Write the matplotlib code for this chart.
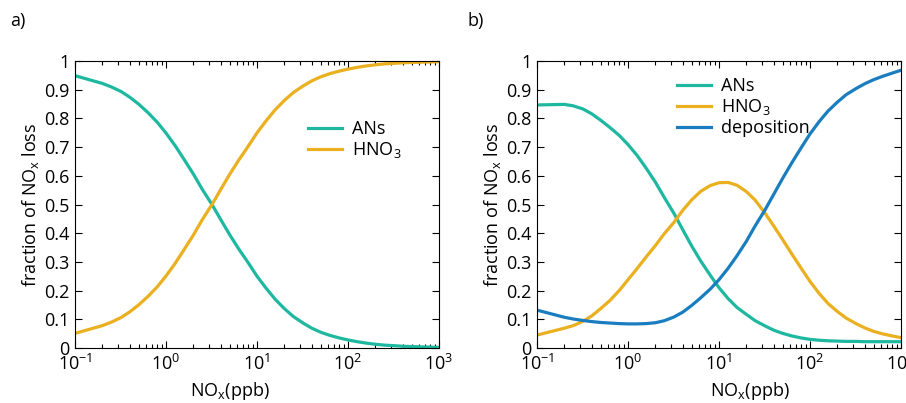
import matplotlib
matplotlib.use('Agg')
import matplotlib.pyplot as plt
from matplotlib.ticker import LogLocator, NullFormatter

plt.rcParams['font.family'] = ['Open Sans', 'DejaVu Sans']
plt.rcParams['mathtext.default'] = 'regular'
plt.rcParams['mathtext.fontset'] = 'custom'
plt.rcParams['mathtext.rm'] = 'Open Sans'

# NOx (ppb) grid shared by both panels
nox = [0.1, 0.2, 0.25, 0.32, 0.4, 0.5, 0.63, 0.8, 1, 1.26, 1.58, 2, 2.5, 3.2, 4, 5, 6.3, 8, 10,
       12.6, 15.8, 20, 25, 32, 40, 50, 63, 80, 100, 126, 158, 200, 250, 320, 400, 500, 630, 800, 1000]

# panel a
ans_a = [0.949, 0.922, 0.910, 0.894, 0.874, 0.850, 0.821, 0.787, 0.749, 0.705, 0.657, 0.606, 0.553,
         0.500, 0.447, 0.395, 0.345, 0.297, 0.250, 0.208, 0.170, 0.137, 0.110, 0.087, 0.069, 0.055,
         0.044, 0.035, 0.028, 0.022, 0.017, 0.013, 0.010, 0.008, 0.006, 0.005, 0.004, 0.003, 0.002]
hno3_a = [0.051, 0.078, 0.090, 0.106, 0.126, 0.150, 0.179, 0.213, 0.251, 0.295, 0.343, 0.394, 0.447,
          0.500, 0.553, 0.605, 0.655, 0.703, 0.750, 0.792, 0.830, 0.863, 0.890, 0.913, 0.931, 0.945,
          0.956, 0.965, 0.972, 0.978, 0.983, 0.987, 0.990, 0.992, 0.994, 0.995, 0.996, 0.997, 0.998]

# panel b
ans_b = [0.847, 0.849, 0.844, 0.833, 0.816, 0.794, 0.769, 0.741, 0.709, 0.671, 0.627, 0.578, 0.525,
         0.469, 0.412, 0.356, 0.303, 0.254, 0.210, 0.172, 0.141, 0.117, 0.095, 0.077, 0.062, 0.051,
         0.042, 0.035, 0.030, 0.027, 0.025, 0.024, 0.023, 0.023, 0.022, 0.022, 0.022, 0.022, 0.022]
hno3_b = [0.045, 0.069, 0.078, 0.093, 0.112, 0.137, 0.165, 0.200, 0.238, 0.277, 0.317, 0.357, 0.398,
          0.438, 0.480, 0.516, 0.546, 0.566, 0.576, 0.577, 0.567, 0.545, 0.515, 0.470, 0.425, 0.378,
          0.328, 0.278, 0.232, 0.190, 0.155, 0.127, 0.104, 0.085, 0.070, 0.058, 0.049, 0.042, 0.036]
dep_b = [0.132, 0.107, 0.101, 0.096, 0.092, 0.089, 0.087, 0.085, 0.084, 0.084, 0.085, 0.088, 0.095,
         0.108, 0.125, 0.148, 0.175, 0.205, 0.238, 0.278, 0.322, 0.372, 0.426, 0.481, 0.536, 0.591,
         0.645, 0.698, 0.746, 0.789, 0.826, 0.857, 0.883, 0.904, 0.921, 0.935, 0.947, 0.958, 0.968]

teal = '#1db89f'
gold = '#ebb01f'
blue = '#1a7dbf'

yticks = [0, 0.1, 0.2, 0.3, 0.4, 0.5, 0.6, 0.7, 0.8, 0.9, 1]
ylabels = ['0', '0.1', '0.2', '0.3', '0.4', '0.5', '0.6', '0.7', '0.8', '0.9', '1']

fig = plt.figure(figsize=(9.06, 4.03), dpi=100)
ax1 = fig.add_axes([0.0828, 0.1365, 0.4018, 0.712])
ax2 = fig.add_axes([0.5927, 0.1365, 0.4018, 0.712])

ax1.plot(nox, ans_a, color=teal, lw=2.3, label='ANs')
ax1.plot(nox, hno3_a, color=gold, lw=2.3, label='HNO$_3$')

ax2.plot(nox, ans_b, color=teal, lw=2.3, label='ANs')
ax2.plot(nox, hno3_b, color=gold, lw=2.3, label='HNO$_3$')
ax2.plot(nox, dep_b, color=blue, lw=2.3, label='deposition')

for ax in (ax1, ax2):
    ax.set_xscale('log')
    ax.set_xlim(0.1, 1000)
    ax.set_ylim(0, 1)
    ax.set_yticks(yticks)
    ax.set_yticklabels(ylabels)
    ax.xaxis.set_minor_locator(LogLocator(base=10, subs=range(2, 10), numticks=20))
    ax.xaxis.set_minor_formatter(NullFormatter())
    ax.tick_params(which='both', direction='in', top=True, right=True, labelsize=13, width=0.8)
    ax.tick_params(which='major', length=5, pad=4)
    ax.tick_params(which='minor', length=3)
    for s in ax.spines.values():
        s.set_linewidth(0.8)
    ax.set_xlabel('NO$_x$(ppb)', fontsize=13)
    ax.set_ylabel('fraction of NO$_x$ loss', fontsize=13, labelpad=2)

ax1.xaxis.set_label_coords(0.426, -0.11)
ax2.xaxis.set_label_coords(0.585, -0.11)

ax1.legend(loc='upper left', bbox_to_anchor=(0.595, 0.85), frameon=False, fontsize=13,
           handlelength=1.9, handletextpad=0.55, labelspacing=0.1)
ax2.legend(loc='upper left', bbox_to_anchor=(0.34, 1.0), frameon=False, fontsize=13,
           handlelength=1.9, handletextpad=0.55, labelspacing=0.1)

fig.text(0.011, 0.935, 'a)', fontsize=13)
fig.text(0.516, 0.935, 'b)', fontsize=13)

fig.savefig('out.png', dpi=100)
